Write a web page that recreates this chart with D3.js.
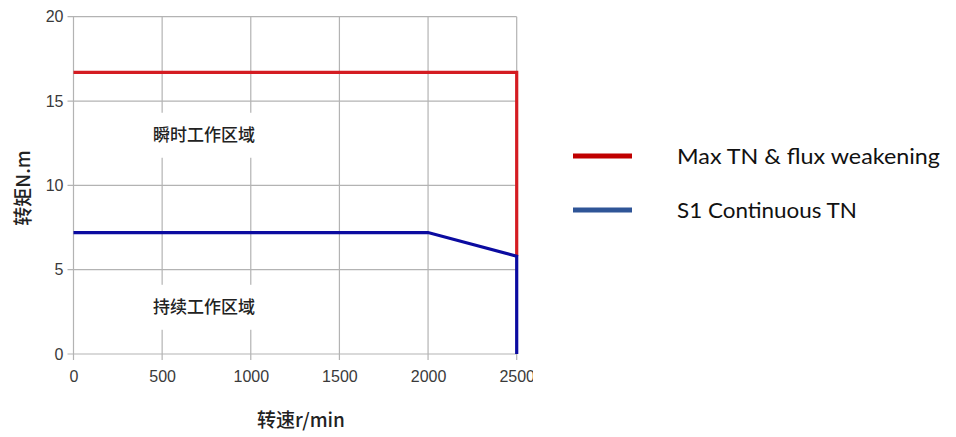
<!DOCTYPE html>
<html>
<head>
<meta charset="utf-8">
<script src="https://cdn.jsdelivr.net/npm/d3@7"></script>
<style>
  html, body { margin: 0; padding: 0; background: #fff; }
  svg { display: block; }
</style>
</head>
<body>
<svg id="chart" width="956" height="437"></svg>
<script>
// ---- data ----
const xTicks = [0, 500, 1000, 1500, 2000, 2500];
const yTicks = [0, 5, 10, 15, 20];
const maxSpeed  = [0, 2500, 2500];
const maxTorque = [16.7, 16.7, 5.8];
const contSpeed  = [0, 2000, 2500, 2500];
const contTorque = [7.2, 7.2, 5.8, 0];
const seriesNames = ["Max TN & flux weakening", "S1 Continuous TN"];
const regionLabels = ["瞬时工作区域", "持续工作区域"];
const regionTorque = [13.0, 2.8];
const xTitle = "转速r/min";
const yTitle = "转矩N.m";

// ---- layout ----
const svg = d3.select("#chart");
const x = d3.scaleLinear().domain([0, 2500]).range([73.5, 516.7]);
const y = d3.scaleLinear().domain([0, 20]).range([354, 16.7]);

svg.append("defs").append("clipPath").attr("id", "imgclip")
  .append("rect").attr("x", 0).attr("y", 0).attr("width", 533).attr("height", 437);

const chartG = svg.append("g").attr("clip-path", "url(#imgclip)");

// gridlines
const grid = chartG.append("g");
grid.selectAll("line.v").data(xTicks).join("line")
  .attr("x1", d => x(d)).attr("x2", d => x(d))
  .attr("y1", y(0) + 6).attr("y2", y(20))
  .attr("stroke", "#b3b3b3").attr("stroke-width", 1.2);
grid.selectAll("line.h").data(yTicks).join("line")
  .attr("x1", x(0) - 6).attr("x2", x(2500))
  .attr("y1", d => y(d)).attr("y2", d => y(d))
  .attr("stroke", "#b3b3b3").attr("stroke-width", 1.2);

// axes (labels only, via d3 axes)
const xAxis = d3.axisBottom(x).tickValues(xTicks).tickSize(0).tickPadding(0).tickFormat(d3.format("d"));
const yAxis = d3.axisLeft(y).tickValues(yTicks).tickSize(0).tickPadding(0).tickFormat(d3.format("d"));
const gx = chartG.append("g").attr("transform", `translate(0,${y(0) + 17})`).call(xAxis);
const gy = chartG.append("g").attr("transform", `translate(${x(0) - 10},0)`).call(yAxis);
[gx, gy].forEach(g => {
  g.select(".domain").remove();
  g.selectAll("text").attr("font-family", "Liberation Sans, Arial, sans-serif")
    .attr("font-size", 16).attr("fill", "#3a3a3a");
});
gx.selectAll("text").attr("dy", "0.71em");

// region labels with white backing
regionLabels.forEach((t, i) => {
  const cy = y(regionTorque[i]);
  chartG.append("rect").attr("x", 140).attr("y", cy - 22).attr("width", 128).attr("height", 45).attr("fill", "#fff");
  chartG.append("text").attr("x", 204).attr("y", cy).attr("dy", "0.35em")
    .attr("text-anchor", "middle")
    .attr("font-family", "Noto Sans CJK SC, sans-serif").attr("font-size", 17).attr("font-weight", 500)
    .attr("fill", "#222").text(t);
});

// lines
const line = d3.line().x(d => x(d[0])).y(d => y(d[1]));
chartG.append("path").datum(maxSpeed.map((s, i) => [s, maxTorque[i]]))
  .attr("d", line).attr("fill", "none").attr("stroke", "#d41c22").attr("stroke-width", 3.2)
  .attr("stroke-linejoin", "miter");
chartG.append("path").datum(contSpeed.map((s, i) => [s, contTorque[i]]))
  .attr("d", line).attr("fill", "none").attr("stroke", "#0b0ba0").attr("stroke-width", 3.2)
  .attr("stroke-linejoin", "miter");

// axis titles
svg.append("text").attr("x", 301).attr("y", 420).attr("dy", "0.35em").attr("text-anchor", "middle")
  .attr("font-family", "Noto Sans CJK SC, sans-serif").attr("font-size", 19).attr("font-weight", 500)
  .attr("fill", "#222").text(xTitle);
svg.append("text").attr("transform", "translate(23,188) rotate(-90)").attr("dy", "0.35em")
  .attr("text-anchor", "middle")
  .attr("font-family", "Noto Sans CJK SC, sans-serif").attr("font-size", 19).attr("font-weight", 500)
  .attr("fill", "#222").text(yTitle);

// legend
const legendColors = ["#c00000", "#2f5597"];
const legendY = [156, 210];
const legendLen = [263, 180];
seriesNames.forEach((n, i) => {
  svg.append("line").attr("x1", 573).attr("x2", 632).attr("y1", legendY[i]).attr("y2", legendY[i])
    .attr("stroke", legendColors[i]).attr("stroke-width", 5);
  svg.append("text").attr("x", 677).attr("y", legendY[i]).attr("dy", "0.35em")
    .attr("font-family", "Lato, sans-serif").attr("font-size", 22)
    .attr("textLength", legendLen[i]).attr("lengthAdjust", "spacingAndGlyphs")
    .attr("fill", "#111").text(n);
});
</script>
</body>
</html>
